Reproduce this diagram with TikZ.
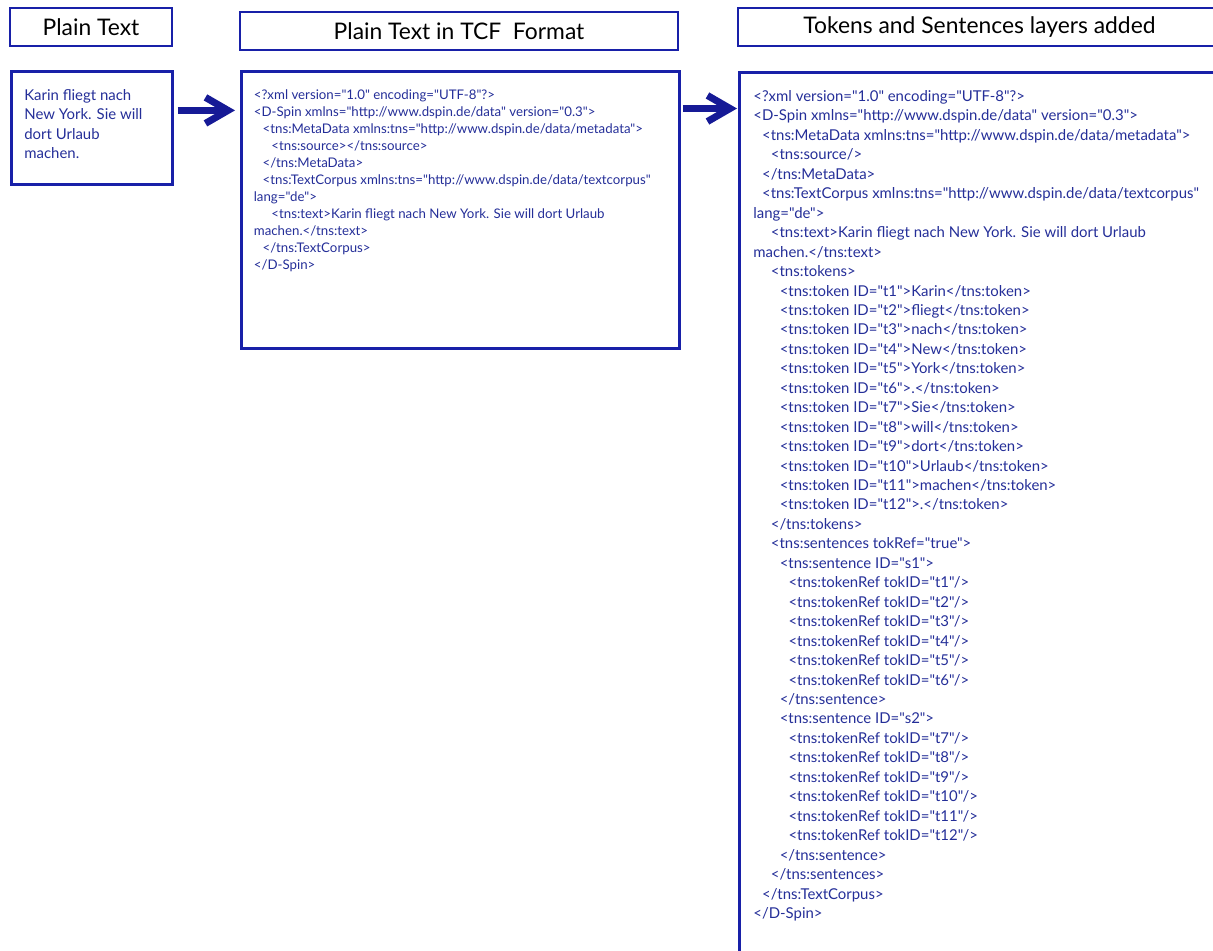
\documentclass[tikz,border=0pt]{standalone}
\usepackage{fontspec}
\setmainfont{Lato}[Ligatures=TeXOff]
\usepackage{tikz}
\usetikzlibrary{arrows.meta,positioning}

\definecolor{tcfblue}{RGB}{24,32,168}
\definecolor{xmlblue}{RGB}{36,46,152}
\definecolor{arrowblue}{RGB}{22,26,150}
\newlength\xmlstep
\setlength\xmlstep{0.176cm}
\newcommand\lvl[1]{\hspace*{#1\xmlstep}}

% text nodes are placed by the baseline of their last line
\tikzset{
  header/.style={draw=tcfblue, line width=1.6pt, minimum height=0.76cm, inner sep=0pt, font=\fontsize{13}{15}\selectfont},
  frame/.style={draw=tcfblue, line width=1.6pt, anchor=north west, inner sep=0pt},
  xml/.style={text=xmlblue, align=left, anchor=base west, inner sep=0pt, font=\fontsize{8.5}{11.07}\selectfont},
  small xml/.style={xml, font=\fontsize{7.55}{9.7}\selectfont},
  >={Straight Barb[length=4.5mm,width=5.2mm]},
}

\begin{document}
\begin{tikzpicture}
\useasboundingbox (0,0) rectangle (24.26,-19);
\clip (0,0) rectangle (24.26,-19);

\node (plain) at (1.82,-0.54) [header, minimum width=3.24cm] {Plain Text};
\node (tcf) at (9.18,-0.62) [header, minimum width=8.76cm] {Plain Text in TCF\ \ Format};
\node (layers) at (19.59,-0.54) [header, minimum width=9.66cm] {Tokens and Sentences layers added};

\node (plainbox) at (0.2,-1.4) [frame, minimum width=3.22cm, minimum height=2.26cm] {};
\node (tcfbox) at (4.8,-1.4) [frame, minimum width=8.76cm, minimum height=5.54cm] {};
\node (layersbox) at (14.76,-1.42) [frame, minimum width=9.8cm, minimum height=19cm] {};

\node (plaintext) at (0.48,-3.17) [xml] {Karin fliegt nach\\New York. Sie will\\dort Urlaub\\machen.};

\node (tcftext) at (5.07,-5.39) [small xml] {<?xml version="1.0" encoding="UTF-8"?>\\
<D-Spin xmlns="http://www.dspin.de/data" version="0.3">\\
\lvl1<tns:MetaData xmlns:tns="http://www.dspin.de/data/metadata">\\
\lvl2<tns:source></tns:source>\\
\lvl1</tns:MetaData>\\
\lvl1<tns:TextCorpus xmlns:tns="http://www.dspin.de/data/textcorpus"\\
lang="de">\\
\lvl2<tns:text>Karin fliegt nach New York. Sie will dort Urlaub\\
machen.</tns:text>\\
\lvl1</tns:TextCorpus>\\
</D-Spin>};

\node (layerstext) at (15.06,-18.37) [xml] {<?xml version="1.0" encoding="UTF-8"?>\\
<D-Spin xmlns="http://www.dspin.de/data" version="0.3">\\
\lvl1<tns:MetaData xmlns:tns="http://www.dspin.de/data/metadata">\\
\lvl2<tns:source/>\\
\lvl1</tns:MetaData>\\
\lvl1<tns:TextCorpus xmlns:tns="http://www.dspin.de/data/textcorpus"\\
lang="de">\\
\lvl2<tns:text>Karin fliegt nach New York. Sie will dort Urlaub\\
machen.</tns:text>\\
\lvl2<tns:tokens>\\
\lvl3<tns:token ID="t1">Karin</tns:token>\\
\lvl3<tns:token ID="t2">fliegt</tns:token>\\
\lvl3<tns:token ID="t3">nach</tns:token>\\
\lvl3<tns:token ID="t4">New</tns:token>\\
\lvl3<tns:token ID="t5">York</tns:token>\\
\lvl3<tns:token ID="t6">.</tns:token>\\
\lvl3<tns:token ID="t7">Sie</tns:token>\\
\lvl3<tns:token ID="t8">will</tns:token>\\
\lvl3<tns:token ID="t9">dort</tns:token>\\
\lvl3<tns:token ID="t10">Urlaub</tns:token>\\
\lvl3<tns:token ID="t11">machen</tns:token>\\
\lvl3<tns:token ID="t12">.</tns:token>\\
\lvl2</tns:tokens>\\
\lvl2<tns:sentences tokRef="true">\\
\lvl3<tns:sentence ID="s1">\\
\lvl4<tns:tokenRef tokID="t1"/>\\
\lvl4<tns:tokenRef tokID="t2"/>\\
\lvl4<tns:tokenRef tokID="t3"/>\\
\lvl4<tns:tokenRef tokID="t4"/>\\
\lvl4<tns:tokenRef tokID="t5"/>\\
\lvl4<tns:tokenRef tokID="t6"/>\\
\lvl3</tns:sentence>\\
\lvl3<tns:sentence ID="s2">\\
\lvl4<tns:tokenRef tokID="t7"/>\\
\lvl4<tns:tokenRef tokID="t8"/>\\
\lvl4<tns:tokenRef tokID="t9"/>\\
\lvl4<tns:tokenRef tokID="t10"/>\\
\lvl4<tns:tokenRef tokID="t11"/>\\
\lvl4<tns:tokenRef tokID="t12"/>\\
\lvl3</tns:sentence>\\
\lvl2</tns:sentences>\\
\lvl1</tns:TextCorpus>\\
</D-Spin>};

% arrows between the boxes
\coordinate (arr1) at ([yshift=0.35cm]plainbox.east);
\coordinate (arr2) at ([yshift=-0.77cm]tcfbox.north east);
\draw[->, line width=4pt, arrowblue, shorten <=0.08cm, shorten >=0.1cm] (arr1) to (arr1 -| tcfbox.west);
\draw[->, line width=4pt, arrowblue, shorten <=0.04cm, shorten >=0.02cm] (arr2) to (arr2 -| layersbox.west);
\end{tikzpicture}
\end{document}
